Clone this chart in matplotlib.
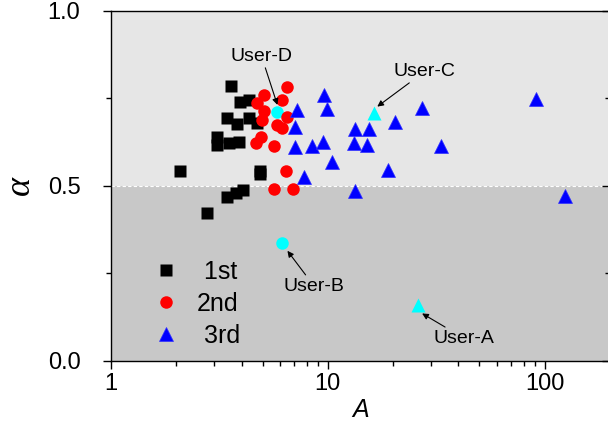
import matplotlib
matplotlib.use("Agg")
import matplotlib.pyplot as plt
from matplotlib.ticker import FixedLocator, NullFormatter

plt.rcParams['font.family'] = ['Liberation Sans', 'DejaVu Sans']

# 1st group (black squares)
a_1st = [3.56, 3.94, 4.33, 3.44, 3.79, 4.31, 4.73, 3.07, 3.07, 3.49, 3.88,
         4.89, 4.89, 4.04, 3.75, 3.43, 2.78, 2.09]
alpha_1st = [0.785, 0.739, 0.746, 0.693, 0.676, 0.693, 0.678, 0.638, 0.615,
             0.622, 0.625, 0.543, 0.534, 0.488, 0.478, 0.469, 0.422, 0.542]

# 2nd group (red circles)
a_2nd = [6.46, 5.07, 4.73, 6.17, 5.07, 4.99, 6.46, 5.85, 6.12, 4.90, 4.64,
         5.64, 6.39, 5.64, 6.94]
alpha_2nd = [0.782, 0.759, 0.735, 0.745, 0.713, 0.688, 0.696, 0.673, 0.665,
             0.639, 0.622, 0.614, 0.542, 0.490, 0.490]

# 3rd group (blue triangles)
a_3rd = [7.19, 9.61, 9.86, 7.03, 7.03, 8.41, 9.45, 10.5, 7.77, 13.3, 15.5,
         13.2, 15.2, 20.3, 19.0, 13.3, 27.2, 33.1, 91.2, 123.4]
alpha_3rd = [0.716, 0.759, 0.718, 0.667, 0.610, 0.614, 0.626, 0.569, 0.524,
             0.661, 0.661, 0.623, 0.616, 0.683, 0.545, 0.485, 0.723, 0.613,
             0.747, 0.471]

# highlighted users
user_names = ['User-A', 'User-B', 'User-C', 'User-D']
user_a = [26.0, 6.12, 16.3, 5.85]
user_alpha = [0.159, 0.337, 0.707, 0.711]
user_marker = ['^', 'o', '^', 'o']
label_a = [42.5, 8.64, 27.9, 4.95]
label_alpha = [0.064, 0.213, 0.826, 0.869]
arrow_a = [27.2, 6.51, 16.9, 5.85]
arrow_alpha = [0.135, 0.314, 0.726, 0.731]

fig = plt.figure(figsize=(6.08, 4.28), dpi=100)
ax = fig.add_axes([0.1826, 0.1572, 0.8207, 0.8178])

ax.axhspan(0.5, 1.0, color='#e6e6e6', zorder=0, lw=0)
ax.axhspan(0.0, 0.5, color='#c8c8c8', zorder=0, lw=0)
ax.axhline(0.5, color='white', lw=0.8, ls=(0, (3, 2)), zorder=1)

# cyan users (D sits under the red circles)
for name, x, y, m in zip(user_names, user_a, user_alpha, user_marker):
    ms = 10.5 if m == '^' else 9
    ax.plot(x, y, m, color='#00ffff', ms=ms, mec='none', zorder=2)

ax.plot(a_1st, alpha_1st, 's', color='black', ms=9, mec='none', zorder=3, label=' 1st')
ax.plot(a_2nd, alpha_2nd, 'o', color='red', ms=9, mec='none', zorder=4, label='2nd')
ax.plot(a_3rd, alpha_3rd, '^', color='#0000ff', ms=10.5, mec='#3030ff', mew=0.5,
        zorder=5, label=' 3rd')

for name, tx, ty, ax_, ay in zip(user_names, label_a, label_alpha, arrow_a, arrow_alpha):
    ax.annotate(name, xy=(ax_, ay), xytext=(tx, ty), ha='center', va='center',
                fontsize=14, zorder=6,
                arrowprops=dict(arrowstyle='-|>', color='black', lw=0.8,
                                mutation_scale=9, shrinkA=0, shrinkB=0))

ax.set_xscale('log')
ax.set_xlim(1, 200)
ax.set_ylim(0, 1)
ax.set_xticks([1, 10, 100])
ax.set_xticklabels(['1', '10', '100'])
ax.set_yticks([0.0, 0.5, 1.0])
ax.set_yticklabels(['0.0', '0.5', '1.0'])
ax.yaxis.set_minor_locator(FixedLocator([0.25, 0.75]))
ax.xaxis.set_minor_formatter(NullFormatter())

ax.tick_params(axis='both', which='major', labelsize=17, width=1, length=6,
               direction='out', color='black')
ax.tick_params(axis='both', which='minor', width=1, length=3.5, direction='out')
ax.tick_params(axis='y', which='major', pad=16)
ax.tick_params(axis='x', which='major', pad=3)
ax.tick_params(axis='y', which='both', right=True, labelright=False)
# right-hand ticks point inwards
for t in ax.yaxis.get_ticklines(minor=False)[1::2] + ax.yaxis.get_ticklines(minor=True)[1::2]:
    t.set_marker(matplotlib.lines.TICKLEFT)

for s in ax.spines.values():
    s.set_linewidth(1)

ax.set_xlabel('A', fontsize=18, fontstyle='italic', labelpad=2)
ax.set_ylabel('\u03b1', fontsize=26, fontstyle='italic',
              family=['Liberation Serif', 'DejaVu Serif'], labelpad=8)

ax.legend(loc='upper left', bbox_to_anchor=(0.0846, 0.289), frameon=False,
          fontsize=18, handlelength=1.0, handletextpad=0.74, labelspacing=0.33,
          borderpad=0, borderaxespad=0, numpoints=1)

fig.savefig('out.png', dpi=100)
